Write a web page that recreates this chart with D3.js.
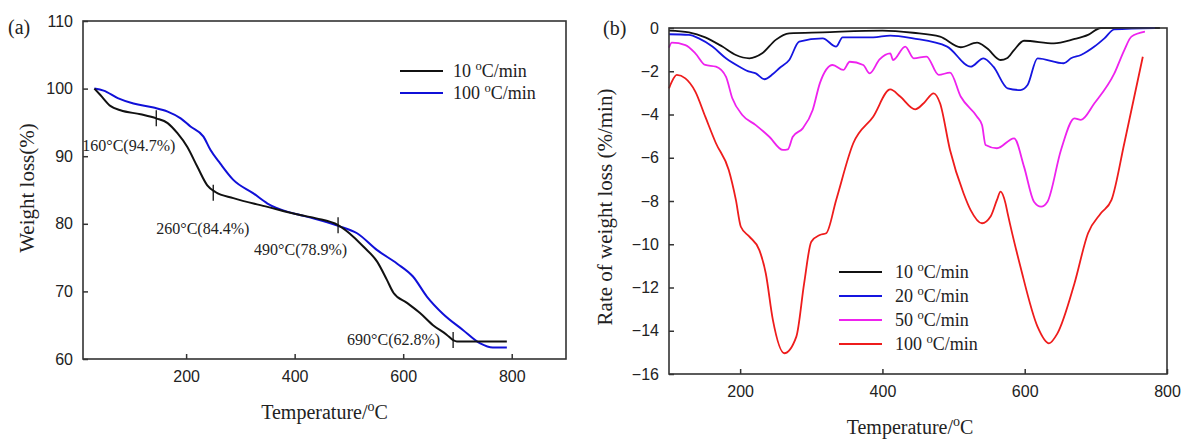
<!DOCTYPE html>
<html>
<head>
<meta charset="utf-8">
<script src="https://cdn.jsdelivr.net/npm/d3@7"></script>
<style>
  body { margin: 0; background: #fff; }
  svg { display: block; }
  .tick-lbl { font-family: "Liberation Sans", Arial, sans-serif; font-size: 16px; fill: #222; }
  .serif { font-family: "Liberation Serif", "Times New Roman", serif; fill: #222; }
</style>
</head>
<body>
<script>
// ---- panel (a): TG curves, temperature (°C) vs weight (%)
var tgTemp10 = [31, 42, 61, 79, 116, 145, 166, 184, 202, 221, 239, 254, 287, 350, 410, 440, 480, 508, 527, 552, 570, 582, 607, 631, 655, 680, 692, 699, 791];
var tgWeight10 = [100, 99.05, 97.4, 96.8, 96.2, 95.6, 94.9, 93.4, 91.4, 88.4, 85.7, 84.7, 83.8, 82.5, 81.3, 80.8, 79.8, 78.1, 76.6, 74.4, 71.7, 69.8, 68.3, 66.8, 65.0, 63.6, 62.8, 62.6, 62.6];
var tgTemp100 = [31, 48, 74, 103, 140, 166, 190, 208, 232, 245, 263, 287, 324, 350, 386, 410, 434, 480, 515, 552, 589, 618, 644, 673, 710, 742, 765, 791];
var tgWeight100 = [100, 99.7, 98.6, 97.8, 97.2, 96.6, 95.6, 94.4, 92.9, 90.9, 88.9, 86.5, 84.5, 83.0, 81.8, 81.3, 80.8, 79.7, 78.6, 76.1, 74.1, 72.2, 69.2, 66.7, 64.3, 62.3, 61.7, 61.7];
var tgSeries = ["10 \u00b0C/min", "100 \u00b0C/min"];
var tgMarkTemp = [145, 250, 480, 692];
var tgMarkWeight = [95.6, 84.6, 79.8, 62.8];
var tgMarkLabel = ["160\u00b0C(94.7%)", "260\u00b0C(84.4%)", "490\u00b0C(78.9%)", "690\u00b0C(62.8%)"];
var tgXTicks = [200, 400, 600, 800];
var tgYTicks = [60, 70, 80, 90, 100, 110];

// ---- panel (b): DTG curves, temperature (°C) vs rate (%/min)
var dtgTemp10 = [100, 128, 151, 175, 194, 213, 231, 250, 269, 316, 400, 443, 481, 510, 533, 547, 566, 575, 585, 599, 641, 669, 689, 707, 790];
var dtgRate10 = [-0.12, -0.2, -0.43, -0.86, -1.25, -1.4, -1.17, -0.55, -0.25, -0.2, -0.12, -0.22, -0.4, -0.89, -0.68, -0.94, -1.48, -1.4, -1.02, -0.59, -0.71, -0.52, -0.32, 0, 0];
var dtgTemp20 = [100, 128, 142, 161, 180, 199, 213, 222, 234, 246, 255, 269, 283, 316, 335, 344, 387, 411, 443, 491, 524, 542, 556, 576, 594, 604, 618, 655, 665, 679, 698, 712, 726, 783];
var dtgRate20 = [-0.29, -0.32, -0.48, -0.86, -1.4, -1.79, -2.02, -2.1, -2.37, -2.13, -1.86, -1.48, -0.63, -0.48, -0.86, -0.43, -0.43, -0.35, -0.48, -0.86, -1.79, -1.4, -1.79, -2.79, -2.87, -2.64, -1.4, -1.63, -1.4, -1.25, -0.86, -0.48, -0.06, 0];
var dtgTemp50 = [100, 104, 123, 137, 151, 166, 180, 189, 203, 222, 241, 260, 267, 274, 288, 302, 312, 330, 345, 354, 373, 382, 396, 411, 415, 432, 444, 462, 479, 495, 510, 533, 540, 545, 561, 585, 599, 613, 623, 632, 651, 670, 679, 698, 726, 740, 750, 769];
var dtgRate50 = [-0.91, -0.68, -0.79, -1.17, -1.71, -1.79, -2.25, -3.25, -4.02, -4.49, -5.03, -5.64, -5.61, -5.03, -4.64, -3.79, -2.56, -1.71, -1.94, -1.56, -1.71, -2.1, -1.45, -1.17, -1.48, -0.86, -1.4, -1.32, -2.17, -2.06, -3.17, -4.1, -4.49, -5.41, -5.56, -5.1, -6.41, -8.03, -8.26, -8.03, -5.64, -4.18, -4.25, -3.48, -2.1, -1.02, -0.4, -0.17];
var dtgTemp100 = [100, 104, 111, 123, 137, 151, 166, 184, 194, 201, 213, 227, 236, 246, 262, 279, 290, 300, 312, 321, 335, 359, 387, 411, 425, 446, 458, 472, 481, 495, 514, 524, 540, 552, 561, 566, 573, 576, 594, 618, 634, 646, 670, 689, 707, 722, 740, 766];
var dtgRate100 = [-2.79, -2.48, -2.17, -2.33, -2.94, -4.1, -5.33, -6.57, -7.95, -9.19, -9.65, -10.27, -11.34, -13.5, -15.04, -14.27, -11.8, -9.88, -9.57, -9.49, -7.95, -5.33, -4.1, -2.84, -3.17, -3.76, -3.48, -3.02, -3.48, -5.64, -7.64, -8.42, -9.03, -8.72, -7.95, -7.57, -8.11, -8.57, -11.04, -13.81, -14.58, -14.12, -11.8, -9.49, -8.57, -7.95, -5.33, -1.33];
var dtgSeries = ["10 \u00b0C/min", "20 \u00b0C/min", "50 \u00b0C/min", "100 \u00b0C/min"];
var dtgXTicks = [200, 400, 600, 800];
var dtgYTicks = [0, -2, -4, -6, -8, -10, -12, -14, -16];

var W = 1181, H = 440;
var axisColor = "#333";

var svg = d3.select("body").append("svg")
    .attr("width", W)
    .attr("height", H);

function zip(xs, ys) {
    return xs.map(function(x, i) { return { x: x, y: ys[i] }; });
}

// label like "10 °C/min" with the degree drawn as a raised small "o"
function degText(sel, str, size) {
    var parts = str.split("\u00b0");
    sel.append("tspan").text(parts[0]);
    sel.append("tspan").attr("dy", -size * 0.38).style("font-size", (size * 0.7) + "px").text("o");
    sel.append("tspan").attr("dy", size * 0.38).text(parts[1]);
}

function drawFrame(g, x, y, xTicks, yTicks) {
    var x0 = x.range()[0], x1 = x.range()[1];
    var y0 = y.range()[0], y1 = y.range()[1];

    g.append("g")
        .attr("transform", "translate(0," + y0 + ")")
        .call(d3.axisBottom(x).tickValues(xTicks).tickSizeInner(-5).tickSizeOuter(0).tickPadding(12));
    g.append("g")
        .attr("transform", "translate(" + x0 + ",0)")
        .call(d3.axisLeft(y).tickValues(yTicks).tickSizeInner(-5).tickSizeOuter(0).tickPadding(10));

    g.selectAll(".domain").remove();
    g.selectAll(".tick line").attr("stroke", axisColor).attr("stroke-width", 1.5);
    g.selectAll(".tick text").attr("class", "tick-lbl").attr("fill", null);

    g.append("rect")
        .attr("x", x0).attr("y", y1)
        .attr("width", x1 - x0).attr("height", y0 - y1)
        .attr("fill", "none")
        .attr("stroke", axisColor)
        .attr("stroke-width", 1.6);
}

function drawPanelA() {
    var g = svg.append("g");
    var x = d3.scaleLinear().domain([10, 900]).range([83, 566]);
    var y = d3.scaleLinear().domain([60, 110]).range([359, 21]);

    drawFrame(g, x, y, tgXTicks, tgYTicks);

    var line = d3.line()
        .x(function(d) { return x(d.x); })
        .y(function(d) { return y(d.y); })
        .curve(d3.curveMonotoneX);

    var data = [zip(tgTemp10, tgWeight10), zip(tgTemp100, tgWeight100)];
    var colors = ["#111", "#1010d8"];

    g.selectAll("path.curve")
        .data([data[1], data[0]])
        .enter()
        .append("path")
        .attr("class", "curve")
        .attr("d", line)
        .attr("fill", "none")
        .attr("stroke", function(d, i) { return i == 0 ? colors[1] : colors[0]; })
        .attr("stroke-width", 2);

    // vertical markers on the 10 °C/min curve
    var labelDx = [-74, -57, -84, -106];
    var labelDy = [33, 41, 30, 5];
    tgMarkTemp.forEach(function(t, i) {
        g.append("line")
            .attr("x1", x(t)).attr("x2", x(t))
            .attr("y1", y(tgMarkWeight[i]) - 8).attr("y2", y(tgMarkWeight[i]) + 8)
            .attr("stroke", "#111").attr("stroke-width", 1.3);
        g.append("text")
            .attr("class", "serif")
            .attr("x", x(t) + labelDx[i])
            .attr("y", y(tgMarkWeight[i]) + labelDy[i])
            .style("font-size", "16px")
            .text(tgMarkLabel[i]);
    });

    // legend
    tgSeries.forEach(function(name, i) {
        var ly = 71 + i * 22;
        g.append("line")
            .attr("x1", 400).attr("x2", 443)
            .attr("y1", ly).attr("y2", ly)
            .attr("stroke", colors[i]).attr("stroke-width", 2);
        degText(g.append("text").attr("class", "serif")
            .attr("x", 453).attr("y", ly + 6).style("font-size", "18px"), name, 18);
    });

    g.append("text").attr("class", "serif")
        .attr("x", 8).attr("y", 34).style("font-size", "20px").text("(a)");

    degText(g.append("text").attr("class", "serif")
        .attr("x", (83 + 566) / 2).attr("y", 419)
        .attr("text-anchor", "middle").style("font-size", "20px"), "Temperature/\u00b0C", 20);

    g.append("text").attr("class", "serif")
        .attr("transform", "translate(34,188) rotate(-90)")
        .attr("text-anchor", "middle")
        .style("font-size", "21px")
        .text("Weight loss(%)");
}

function drawPanelB() {
    var g = svg.append("g");
    var x = d3.scaleLinear().domain([100, 800]).range([669, 1167]);
    var y = d3.scaleLinear().domain([-16, 0]).range([374, 28]);

    var colors = ["#111", "#1515e0", "#ee22ee", "#ee1c1c"];
    var data = [
        zip(dtgTemp10, dtgRate10),
        zip(dtgTemp20, dtgRate20),
        zip(dtgTemp50, dtgRate50),
        zip(dtgTemp100, dtgRate100)
    ];

    var line = d3.line()
        .x(function(d) { return x(d.x); })
        .y(function(d) { return y(d.y); })
        .curve(d3.curveMonotoneX);

    g.selectAll("path.curve")
        .data(data)
        .enter()
        .append("path")
        .attr("class", "curve")
        .attr("d", line)
        .attr("fill", "none")
        .attr("stroke", function(d, i) { return colors[i]; })
        .attr("stroke-width", 1.8);

    drawFrame(g, x, y, dtgXTicks, dtgYTicks);

    dtgSeries.forEach(function(name, i) {
        var ly = 272 + i * 24;
        g.append("line")
            .attr("x1", 839).attr("x2", 882)
            .attr("y1", ly).attr("y2", ly)
            .attr("stroke", colors[i]).attr("stroke-width", 2);
        degText(g.append("text").attr("class", "serif")
            .attr("x", 895).attr("y", ly + 6).style("font-size", "18px"), name, 18);
    });

    g.append("text").attr("class", "serif")
        .attr("x", 603).attr("y", 35).style("font-size", "20px").text("(b)");

    degText(g.append("text").attr("class", "serif")
        .attr("x", 910).attr("y", 434)
        .attr("text-anchor", "middle").style("font-size", "20px"), "Temperature/\u00b0C", 20);

    g.append("text").attr("class", "serif")
        .attr("transform", "translate(612,207) rotate(-90)")
        .attr("text-anchor", "middle")
        .style("font-size", "21px")
        .text("Rate of weight loss (%/min)");
}

drawPanelA();
drawPanelB();
</script>
</body>
</html>
